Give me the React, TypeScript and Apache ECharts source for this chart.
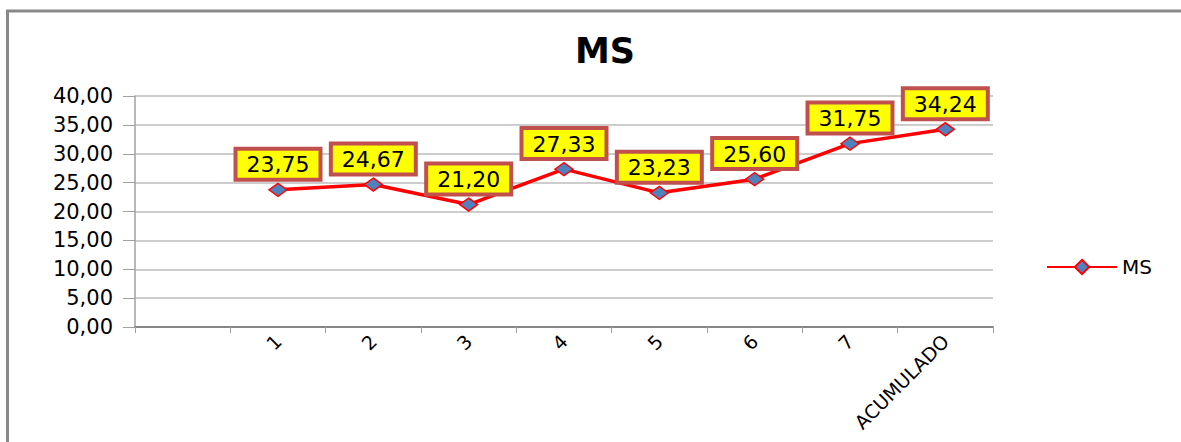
import React, { useEffect, useRef } from "react";
import * as echarts from "echarts";

const categories = ["", "1", "2", "3", "4", "5", "6", "7", "ACUMULADO"];
const msValues = [null, 23.75, 24.67, 21.2, 27.33, 23.23, 25.6, 31.75, 34.24];
const seriesName = "MS";
const yMin = 0;
const yMax = 40;
const yInterval = 5;

const FONT = "DejaVu Sans";
const fmt = (v: number) => v.toFixed(2).replace(".", ",");

export default function App() {
  const ref = useRef<HTMLDivElement>(null);
  useEffect(() => {
    document.body.style.margin = "0";
    const chart = echarts.init(ref.current!, null, { renderer: "svg" });
    chart.setOption({
      animation: false,
      backgroundColor: "#ffffff",
      textStyle: { fontFamily: FONT },
      title: {
        text: seriesName,
        left: 600,
        textAlign: "center",
        top: 28,
        textStyle: { fontFamily: FONT, fontSize: 35, fontWeight: "bold", color: "#000" },
      },
      graphic: [
        {
          type: "polyline",
          shape: { points: [[7.5, 442], [7.5, 11], [1181, 11]] },
          style: { stroke: "#888888", lineWidth: 3, fill: null },
          silent: true,
        },
      ],
      legend: {
        left: 1041,
        top: 252,
        orient: "vertical",
        itemWidth: 70,
        itemHeight: 18,
        itemGap: 8,
        textStyle: { fontFamily: FONT, fontSize: 20, color: "#000" },
        data: [seriesName],
      },
      grid: { left: 135, right: 188, top: 96, bottom: 115, containLabel: false, outerBoundsMode: "none" },
      xAxis: {
        type: "category",
        data: categories,
        boundaryGap: true,
        axisLine: { lineStyle: { color: "#868686", width: 2 } },
        axisTick: { show: true, alignWithLabel: false, length: 6, lineStyle: { color: "#a0a0a0" }, interval: 0 },
        axisLabel: { interval: 0, rotate: 45, margin: 11, fontSize: 19, color: "#000", fontFamily: FONT },
        splitLine: { show: false },
      },
      yAxis: {
        type: "value",
        min: yMin,
        max: yMax,
        interval: yInterval,
        axisLine: { show: true, lineStyle: { color: "#a0a0a0", width: 1.5 } },
        axisTick: { show: true, length: 12, lineStyle: { color: "#a0a0a0" } },
        axisLabel: { formatter: (v: number) => fmt(v), fontSize: 21, color: "#000", margin: 22, fontFamily: FONT },
        splitLine: { show: true, lineStyle: { color: "#bdbdbd", width: 1.5 } },
      },
      series: [
        {
          name: seriesName,
          type: "line",
          data: msValues,
          symbol: "diamond",
          symbolSize: [18, 13],
          showSymbol: true,
          lineStyle: { color: "#ff0000", width: 3.5 },
          itemStyle: { color: "#4f81bd", borderColor: "#ff0000", borderWidth: 1.5 },
          label: {
            show: true,
            position: "top",
            distance: 5,
            formatter: (p: any) => fmt(p.value as number),
            fontFamily: FONT,
            fontSize: 22,
            color: "#000",
            backgroundColor: "#ffff00",
            borderColor: "#c0504d",
            borderWidth: 4,
            padding: [3, 9, 2, 9],
          },
        },
      ],
    });
    return () => chart.dispose();
  }, []);
  return <div ref={ref} style={{ width: 1181, height: 442 }} />;
}
